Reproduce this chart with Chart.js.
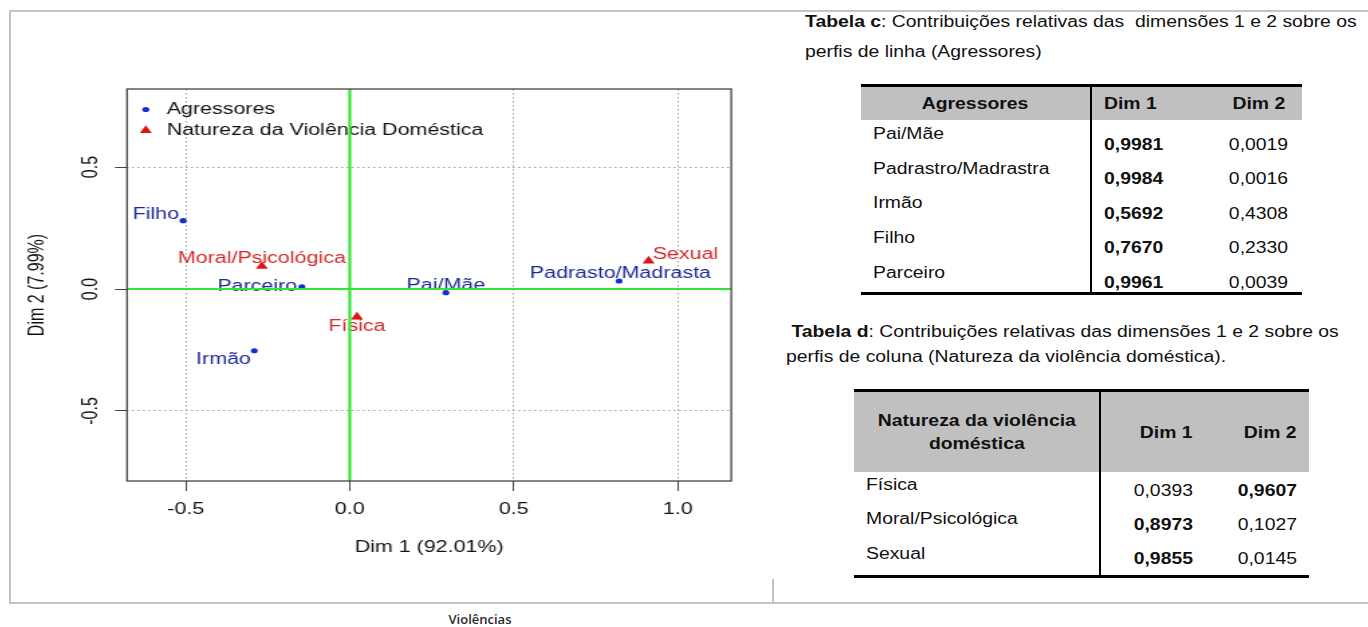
<!DOCTYPE html>
<html lang="pt">
<head>
<meta charset="utf-8">
<title>Violências</title>
<script src="https://cdn.jsdelivr.net/npm/chart.js@4.4.1/dist/chart.umd.min.js"></script>
<style>
  html, body { margin: 0; padding: 0; background: #fff; }
  body { position: relative; width: 1368px; height: 627px; overflow: hidden;
         font-family: "Liberation Sans", Arial, Helvetica, sans-serif; color: #111; }
  .rule { position: absolute; background: #c4c4c4; }
  #grafico { position: absolute; left: 10px; top: 12px; }
  #rodape { position: absolute; left: 0; width: 960px; top: 610px; text-align: center;
            font: 600 13px "Open Sans", sans-serif; color: #2a2a2a; }

  .sx { display: inline-block; white-space: nowrap; transform: scaleX(1.21); }
  .sx.l { transform-origin: left center; }
  .sx.m { transform-origin: center center; }
  .sx.r { transform-origin: right center; }

  .legenda { position: absolute; font-size: 16px; white-space: nowrap; }
  #legC { left: 805px; top: 6.5px; line-height: 30px; }
  #legD { left: 786px; top: 319px; line-height: 25px; }

  .ctr { position: absolute; border-collapse: separate; border-spacing: 0; table-layout: fixed;
         border-top: 3px solid #000; border-bottom: 3px solid #000;
         font-size: 16px; line-height: 19px; color: #111; }
  .ctr th { background: #c0c0c0; font-weight: bold; padding: 0; vertical-align: middle; }
  .ctr td { padding: 0; vertical-align: top; }
  .ctr .c0 { border-right: 2px solid #000; text-align: left; }

  #tabC { left: 861px; top: 84px; width: 441px; }
  #tabC th { height: 32.5px; }
  #tabC th.c0 { text-align: center; }
  #tabC td { height: 34.6px; box-sizing: border-box; line-height: 18px; }
  #tabC td.c0 { padding: 5.8px 0 0 12.2px; }
  #tabC .c1 { text-align: left; padding-left: 11.5px; }
  #tabC td.c1 { padding-top: 16px; }
  #tabC .c2 { text-align: center; padding-left: 26px; }
  #tabC td.c2 { padding-top: 16px; }

  #tabD { left: 854px; top: 389px; width: 455px; }
  #tabD th { height: 80px; line-height: 23px; }
  #tabD th.c0 { text-align: center; }
  #tabD td { height: 34.3px; box-sizing: border-box; }
  #tabD td.c0 { padding: 3px 0 0 12.2px; }
  #tabD .c1, #tabD .c2 { text-align: right; padding-right: 12px; }
  #tabD td.c1, #tabD td.c2 { padding-top: 8.5px; }
</style>
</head>
<body>

<div class="rule" style="left:9px; top:10px; width:1359px; height:2px;"></div>
<div class="rule" style="left:9px; top:10px; width:2px; height:594px;"></div>
<div class="rule" style="left:9px; top:602px; width:1359px; height:2px;"></div>
<div class="rule" style="left:772px; top:579px; width:2px; height:25px;"></div>

<!-- o gráfico é desenhado a 570px de largura e esticado na horizontal -->
<canvas id="grafico" width="570" height="591" style="width:763.8px; height:591px;"></canvas>
<div id="rodape">Violências</div>

<div id="legC" class="legenda">
  <span class="sx l"><b>Tabela c</b>: Contribuições relativas das &nbsp;dimensões 1 e 2 sobre os</span><br>
  <span class="sx l">perfis de linha (Agressores)</span>
</div>

<table id="tabC" class="ctr">
  <colgroup><col style="width:231px"><col style="width:97.5px"><col style="width:112.5px"></colgroup>
  <thead>
    <tr><th class="c0"><span class="sx m">Agressores</span></th>
        <th class="c1"><span class="sx l">Dim 1</span></th>
        <th class="c2"><span class="sx m">Dim 2</span></th></tr>
  </thead>
  <tbody></tbody>
</table>

<div id="legD" class="legenda">
  <span class="sx l">&nbsp;<b>Tabela d</b>: Contribuições relativas das dimensões 1 e 2 sobre os</span><br>
  <span class="sx l">perfis de coluna (Natureza da violência doméstica).</span>
</div>

<table id="tabD" class="ctr">
  <colgroup><col style="width:247px"><col style="width:104px"><col style="width:104px"></colgroup>
  <thead>
    <tr><th class="c0"><span class="sx m">Natureza da violência<br>doméstica</span></th>
        <th class="c1"><span class="sx r">Dim 1</span></th>
        <th class="c2"><span class="sx r">Dim 2</span></th></tr>
  </thead>
  <tbody></tbody>
</table>

<script>
// coordenadas da análise de correspondências (dimensões 1 e 2)
const agressores = ['Pai/Mãe', 'Padrasto/Madrasta', 'Irmão', 'Filho', 'Parceiro'];
const agrDim1 = [0.293, 0.821, -0.291, -0.508, -0.146];
const agrDim2 = [-0.015, 0.033, -0.253, 0.280, 0.009];

const naturezas = ['Física', 'Moral/Psicológica', 'Sexual'];
const natDim1 = [0.022, -0.268, 0.911];
const natDim2 = [-0.114, 0.094, 0.115];

const xTicks = [-0.5, 0, 0.5, 1.0];
const yTicks = [-0.5, 0, 0.5];

// contribuições relativas das dimensões (tabelas c e d)
const ctrAgrNomes = ['Pai/Mãe', 'Padrastro/Madrastra', 'Irmão', 'Filho', 'Parceiro'];
const ctrAgrDim1 = [0.9981, 0.9984, 0.5692, 0.7670, 0.9961];
const ctrAgrDim2 = [0.0019, 0.0016, 0.4308, 0.2330, 0.0039];

const ctrNatNomes = ['Física', 'Moral/Psicológica', 'Sexual'];
const ctrNatDim1 = [0.0393, 0.8973, 0.9855];
const ctrNatDim2 = [0.9607, 0.1027, 0.0145];

// onde cada rótulo fica em relação ao ponto: alinhamento, dx, dy
const posRotulo = {
  'Pai/Mãe': ['center', 0, -7.5],
  'Padrasto/Madrasta': ['center', 1, -7.5],
  'Irmão': ['right', -2.5, 8.5],
  'Filho': ['right', -3, -6.5],
  'Parceiro': ['right', -3.5, 0],
  'Física': ['center', 0, 9.5],
  'Moral/Psicológica': ['center', 0, -7.5],
  'Sexual': ['left', 3, -6.5]
};

const FAMILIA = '"Liberation Sans", Arial, Helvetica, sans-serif';
const fonte = { family: FAMILIA, size: 16 };
const corPonto = ['#1030d0', '#e01414'];
const corRotulo = ['#1c2a96', '#d42a2a'];

function fmt(v) { return v.toFixed(4).replace('.', ','); }

function preencheTabela(id, nomes, d1, d2) {
  const corpo = document.querySelector('#' + id + ' tbody');
  nomes.forEach((nome, i) => {
    const tr = document.createElement('tr');
    const td0 = document.createElement('td');
    const td1 = document.createElement('td');
    const td2 = document.createElement('td');
    td0.className = 'c0';
    td1.className = 'c1';
    td2.className = 'c2';
    const orig = id === 'tabD' ? 'r' : '';
    td0.innerHTML = `<span class="sx l">${nome}</span>`;
    const forte1 = d1[i] >= d2[i];
    td1.innerHTML = `<span class="sx ${orig || 'l'}">${forte1 ? '<b>' + fmt(d1[i]) + '</b>' : fmt(d1[i])}</span>`;
    td2.innerHTML = `<span class="sx ${orig || 'm'}">${forte1 ? fmt(d2[i]) : '<b>' + fmt(d2[i]) + '</b>'}</span>`;
    tr.append(td0, td1, td2);
    corpo.append(tr);
  });
}

preencheTabela('tabC', ctrAgrNomes, ctrAgrDim1, ctrAgrDim2);
preencheTabela('tabD', ctrNatNomes, ctrNatDim1, ctrNatDim2);

// rótulos dos pontos, legenda, eixos zero em verde e moldura
const rotulosPlugin = {
  id: 'rotulos',
  afterDatasetsDraw(chart) {
    const { ctx, chartArea: a, scales } = chart;
    ctx.save();
    ctx.font = `${fonte.size}px ${FAMILIA}`;
    ctx.textBaseline = 'middle';

    chart.data.datasets.forEach((ds, di) => {
      const meta = chart.getDatasetMeta(di);
      ctx.fillStyle = corRotulo[di];
      meta.data.forEach((pt, i) => {
        const nome = ds.data[i].nome;
        const [al, dx, dy] = posRotulo[nome];
        ctx.textAlign = al;
        ctx.fillText(nome, pt.x + dx, pt.y + dy);
      });
    });

    // legenda no canto superior esquerdo
    chart.data.datasets.forEach((ds, di) => {
      const cx = a.left + 14;
      const cy = a.top + 20.5 + di * 21;
      ctx.fillStyle = corPonto[di];
      ctx.beginPath();
      if (ds.pointStyle === 'triangle') {
        const r = ds.pointRadius;
        ctx.moveTo(cx, cy - r);
        ctx.lineTo(cx + r * 0.866, cy + r / 2);
        ctx.lineTo(cx - r * 0.866, cy + r / 2);
        ctx.closePath();
      } else {
        ctx.arc(cx, cy, ds.pointRadius, 0, Math.PI * 2);
      }
      ctx.fill();
      ctx.fillStyle = '#111';
      ctx.textAlign = 'left';
      ctx.fillText(ds.label, a.left + 29.6, cy);
    });

    const x0 = scales.x.getPixelForValue(0);
    const y0 = scales.y.getPixelForValue(0);
    ctx.strokeStyle = '#33e633';
    ctx.lineWidth = 2.2;
    ctx.beginPath();
    ctx.moveTo(x0, a.top);
    ctx.lineTo(x0, a.bottom);
    ctx.moveTo(a.left, y0);
    ctx.lineTo(a.right, y0);
    ctx.stroke();

    ctx.strokeStyle = '#444';
    ctx.lineWidth = 1.3;
    ctx.strokeRect(a.left, a.top, a.right - a.left, a.bottom - a.top);
    ctx.restore();
  }
};

const gradeCor = c => (c.tick && c.tick.value === 0) ? 'rgba(0,0,0,0)' : '#a0a0a0';

new Chart(document.getElementById('grafico'), {
  type: 'scatter',
  data: {
    datasets: [
      {
        label: 'Agressores',
        data: agressores.map((nome, i) => ({ x: agrDim1[i], y: agrDim2[i], nome })),
        pointStyle: 'circle',
        pointRadius: 2.6,
        pointBorderWidth: 0,
        backgroundColor: corPonto[0]
      },
      {
        label: 'Natureza da Violência Doméstica',
        data: naturezas.map((nome, i) => ({ x: natDim1[i], y: natDim2[i], nome })),
        pointStyle: 'triangle',
        pointRadius: 5.2,
        pointBorderWidth: 0,
        backgroundColor: corPonto[1]
      }
    ]
  },
  options: {
    responsive: false,
    animation: false,
    events: [],
    layout: { padding: { top: 77, right: 31.9, bottom: 42, left: 0 } },
    plugins: { legend: { display: false }, tooltip: { enabled: false } },
    scales: {
      x: {
        type: 'linear',
        min: -0.679,
        max: 1.163,
        afterBuildTicks: s => { s.ticks = xTicks.map(v => ({ value: v })); },
        afterFit: s => { s.height = 80; },
        grid: { color: gradeCor, lineWidth: 1, tickLength: 10, tickColor: '#444', tickWidth: 1, tickBorderDash: [] },
        border: { display: false, dash: [1.5, 2.5] },
        ticks: { font: fonte, color: '#111', padding: 9.4, maxRotation: 0, autoSkip: false,
                 callback: v => v.toFixed(1) },
        title: { display: true, text: 'Dim 1 (92.01%)', font: fonte, color: '#111',
                 padding: { top: 0, bottom: 3.4 } }
      },
      y: {
        type: 'linear',
        min: -0.787,
        max: 0.82,
        afterBuildTicks: s => { s.ticks = yTicks.map(v => ({ value: v })); },
        afterFit: s => { s.width = 87.3; },
        grid: { color: gradeCor, lineWidth: 1, tickLength: 9, tickColor: '#444', tickWidth: 1, tickBorderDash: [] },
        border: { display: false, dash: [1.5, 2.5] },
        ticks: { font: fonte, color: '#111', padding: 3.5, minRotation: 90, maxRotation: 90,
                 crossAlign: 'center', autoSkip: false, callback: v => v.toFixed(1) },
        title: { display: true, text: 'Dim 2 (7.99%)', font: fonte, color: '#111',
                 padding: { top: 10.5, bottom: 0 } }
      }
    }
  },
  plugins: [rotulosPlugin]
});
</script>
</body>
</html>
